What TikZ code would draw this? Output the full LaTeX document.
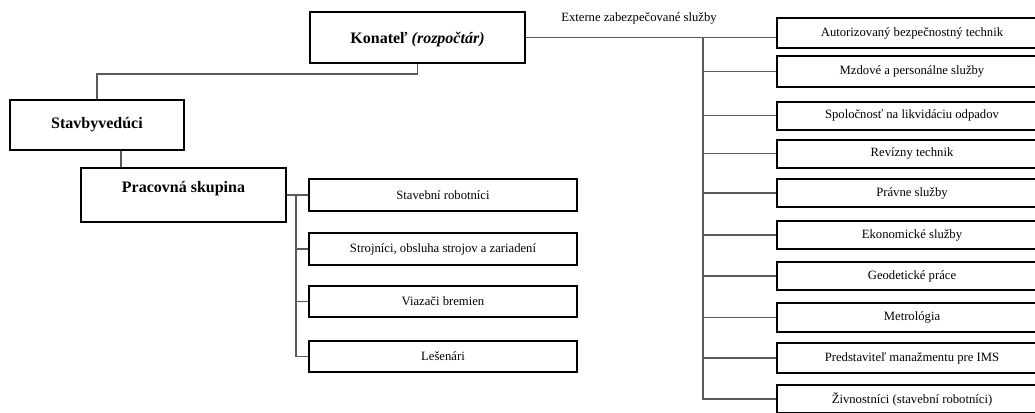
\documentclass[tikz,border=0pt]{standalone}
\usepackage{fontspec}
\setmainfont{Liberation Serif}
\usetikzlibrary{calc}
\begin{document}
\begin{tikzpicture}[x=0.75pt,y=-0.75pt,
  sz/.style 2 args={minimum width=#1*0.75pt, minimum height=#2*0.75pt},
  bigbox/.style={draw=black, line width=1.5pt, inner sep=0pt, font=\fontsize{12}{14}\selectfont\bfseries},
  smallbox/.style={draw=black, line width=1.5pt, inner sep=0pt, font=\fontsize{9.5}{11}\selectfont},
  conn/.style={draw=black!65, line width=0.9pt},
  lbl/.style={inner sep=0pt, font=\fontsize{9.5}{11}\selectfont}]
\useasboundingbox (0,0) rectangle (1035,412);
\clip (0,0) rectangle (1035,412);
% top level
\node[bigbox, sz={215}{51}] (kon) at (417.5,37.5) {};
\node[inner sep=0pt, font=\fontsize{12}{14}\selectfont\bfseries] (kont) at (417.5,40) {Konateľ \textit{(rozpočtár)}};
\node[bigbox, sz={174}{50}] (stv) at (97,125) {Stavbyvedúci};
\node[bigbox, sz={205}{54}] (pr) at (183.5,195) {};
\node[inner sep=0pt, font=\fontsize{12}{14}\selectfont\bfseries] (prt) at (183.5,189) {Pracovná skupina};
% left children
\node[smallbox, sz={268}{32}] (c1) at (443,195) {Stavební robotníci};
\node[smallbox, sz={268}{32}] (c2) at (443,249) {Strojníci, obsluha strojov a zariadení};
\node[smallbox, sz={268}{31}] (c3) at (443,301.5) {Viazači bremien};
\node[smallbox, sz={268}{31}] (c4) at (443,356.5) {Lešenári};
% right children
\node[lbl] (ext) at (639,18) {Externe zabezpečované služby};
\node[smallbox, sz={270}{30}] (a1) at (912,33) {Autorizovaný bezpečnostný technik};
\node[smallbox, sz={270}{31}] (a2) at (912,71.5) {Mzdové a personálne služby};
\node[smallbox, sz={270}{28}] (a3) at (912,115.5) {Spoločnosť na likvidáciu odpadov};
\node[smallbox, sz={270}{28}] (a4) at (912,153.5) {Revízny technik};
\node[smallbox, sz={270}{28}] (a5) at (912,193) {Právne služby};
\node[smallbox, sz={270}{28}] (a6) at (912,235) {Ekonomické služby};
\node[smallbox, sz={270}{28}] (a7) at (912,276) {Geodetické práce};
\node[smallbox, sz={270}{29}] (a8) at (912,317.5) {Metrológia};
\node[smallbox, sz={270}{30}] (a9) at (912,358) {Predstaviteľ manažmentu pre IMS};
\node[smallbox, sz={270}{28}] (a10) at (912,399) {Živnostníci (stavební robotníci)};
% connectors
\coordinate (lbus) at (296,0);
\coordinate (rbus) at (703,0);
\coordinate (sx) at (121,0);
\draw[conn] (kon.south) -- ++(0,10) -| (stv.north);
\draw[conn] (stv.south -| sx) -- (pr.north -| sx);
\draw[conn] (pr.east |- c1.west) -- (c1.west);
\draw[conn] (c1.west -| lbus) |- (c4.west);
\draw[conn] (c2.west -| lbus) -- (c2.west);
\draw[conn] (c3.west -| lbus) -- (c3.west);
\draw[conn] (kon.east) -- (kon.east -| a1.west);
\draw[conn] (kon.east -| rbus) |- (a10.west);
\foreach \i in {2,...,9}{\draw[conn] (a\i.west -| rbus) -- (a\i.west);}
\end{tikzpicture}
\end{document}
